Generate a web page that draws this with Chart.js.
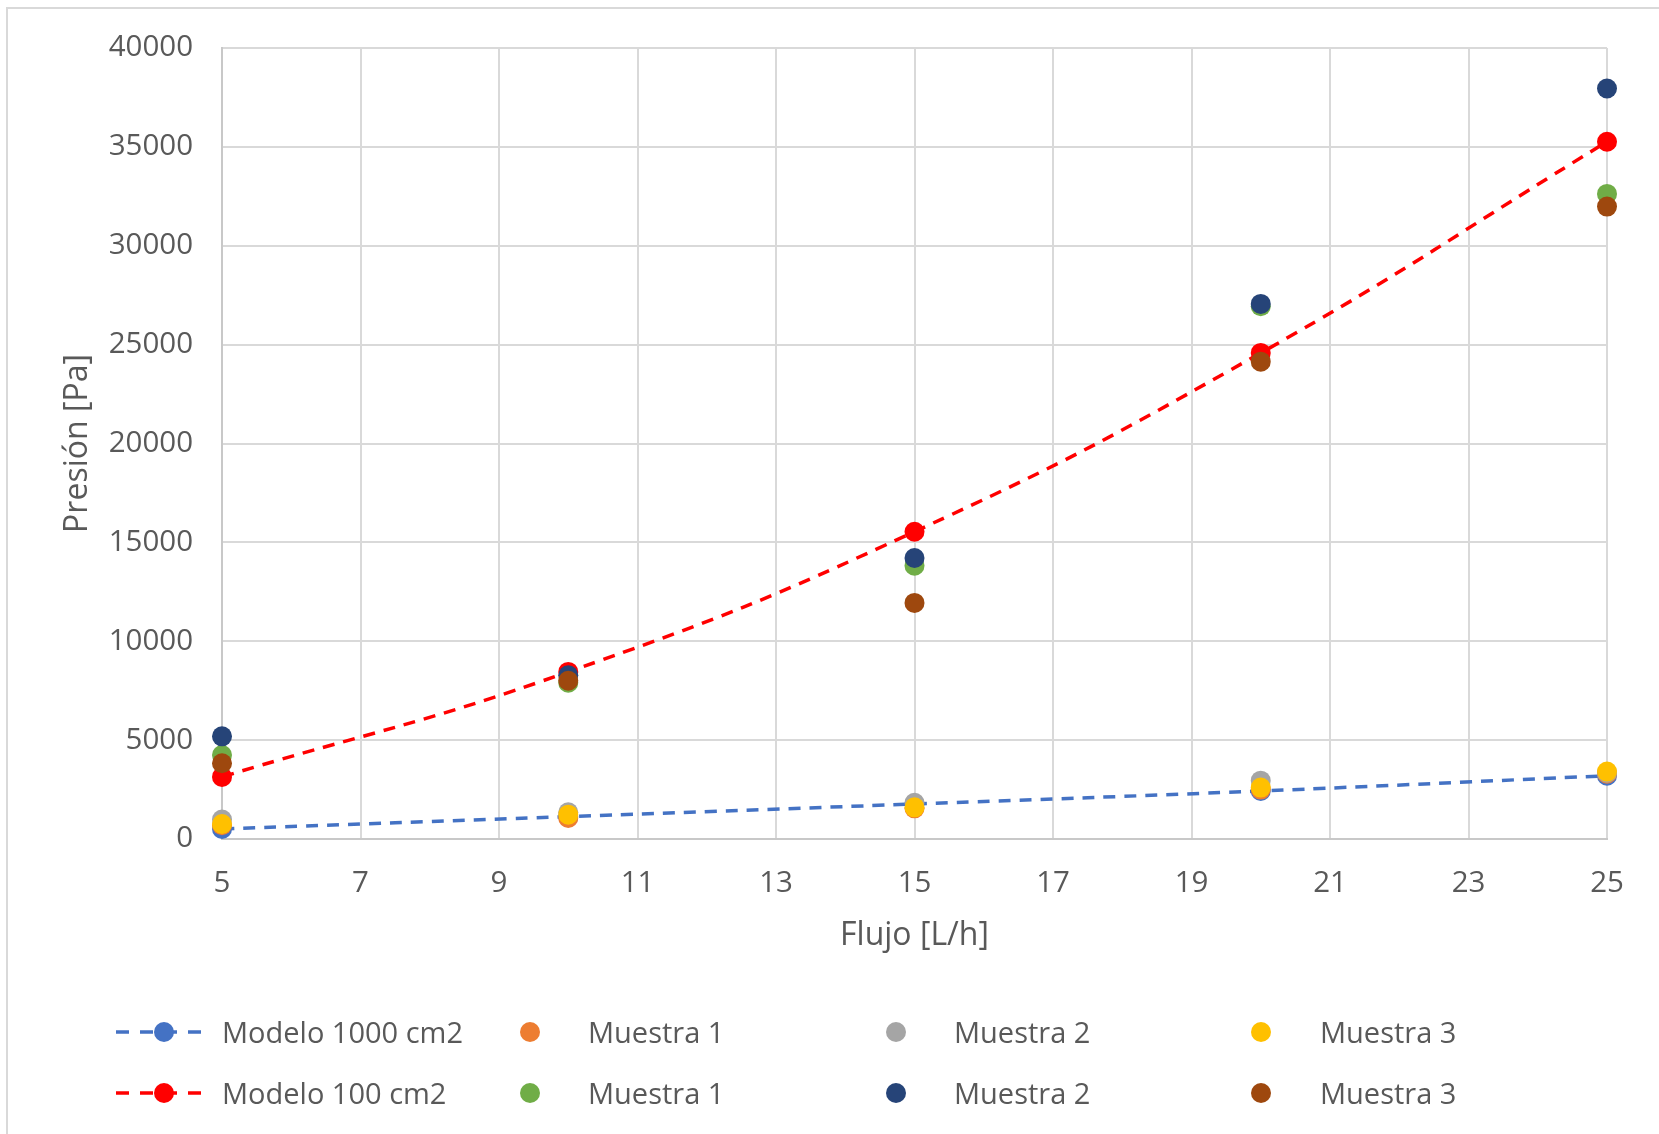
<!DOCTYPE html>
<html>
<head>
<meta charset="utf-8">
<script src="https://cdn.jsdelivr.net/npm/chart.js@4/dist/chart.umd.min.js"></script>
<style>
  html, body { margin: 0; padding: 0; background: #fff; overflow: hidden; }
  #frame { position: absolute; left: 6px; top: 7px; width: 1720px; height: 1220px; border: 2px solid #d9d9d9; box-sizing: border-box; }
  #wrap { position: absolute; left: 0; top: 0; width: 1659px; height: 1134px; }
  #legend { position: absolute; left: 0; top: 0; width: 1659px; height: 1134px; pointer-events: none;
            font-family: 'Open Sans', sans-serif; font-size: 29px; color: #595959; }
  #legend .txt { position: absolute; height: 40px; line-height: 40px; white-space: nowrap; }
  #legend svg { position: absolute; overflow: visible; }
</style>
</head>
<body>
<div id="frame"></div>
<div id="wrap"><canvas id="chart" width="1659" height="1134"></canvas></div>
<div id="legend"></div>
<script>
// Flow rates (L/h) and measured / modelled pressures (Pa)
const xFlow = [5, 10, 15, 20, 25];
const xTicks = [5, 7, 9, 11, 13, 15, 17, 19, 21, 23, 25];

const modelo1000 = [510, 1130, 1770, 2430, 3200];
const muestra1A  = [700, 1060, 1550, 2500, 3300];
const muestra2A  = [980, 1350, 1830, 2950, 3350];
const muestra3A  = [760, 1230, 1600, 2600, 3410];

const modelo100  = [3140, 8450, 15540, 24580, 35260];
const muestra1B  = [4250, 7900, 13820, 26940, 32620];
const muestra2B  = [5190, 8280, 14210, 27060, 37950];
const muestra3B  = [3830, 8000, 11940, 24140, 31980];

const seriesNames = ['Modelo 1000 cm2', 'Muestra 1', 'Muestra 2', 'Muestra 3',
                     'Modelo 100 cm2', 'Muestra 1', 'Muestra 2', 'Muestra 3'];
const seriesValues = [modelo1000, muestra1A, muestra2A, muestra3A,
                      modelo100, muestra1B, muestra2B, muestra3B];
const seriesColors = ['#4472C4', '#ED7D31', '#A5A5A5', '#FFC000',
                      '#FF0000', '#70AD47', '#264478', '#9E480E'];
const seriesIsModel = [true, false, false, false, true, false, false, false];

const toPoints = vals => vals.map((v, i) => ({ x: xFlow[i], y: v }));

const datasets = seriesValues.map((vals, i) => ({
  label: seriesNames[i],
  data: toPoints(vals),
  showLine: seriesIsModel[i],
  borderColor: seriesColors[i],
  backgroundColor: seriesColors[i],
  borderWidth: 3.5,
  borderDash: [12, 9],
  tension: 0.45,
  pointRadius: 10,
  pointHoverRadius: 10,
  pointBorderWidth: 0,
  pointBackgroundColor: seriesColors[i],
  clip: false,
  // later series are painted on top
  order: seriesValues.length - i
}));

const font = 'Open Sans';
const textColor = '#595959';
const gridColor = '#d9d9d9';

new Chart(document.getElementById('chart'), {
  type: 'scatter',
  data: { datasets },
  options: {
    responsive: false,
    animation: false,
    events: [],
    layout: { padding: { left: 59, top: 48, right: 52, bottom: 179 } },
    plugins: { legend: { display: false }, tooltip: { enabled: false } },
    scales: {
      x: {
        type: 'linear',
        min: 5, max: 25,
        afterBuildTicks: s => { s.ticks = xTicks.map(v => ({ value: v })); },
        afterFit: s => { s.height = 116; },
        grid: { color: gridColor, lineWidth: 2, drawTicks: false },
        border: { color: '#c8c8c8', width: 2 },
        ticks: { color: textColor, font: { family: font, size: 29.5 }, padding: 27, maxRotation: 0,
                 callback: v => String(v) },
        title: { display: true, text: 'Flujo [L/h]', color: textColor,
                 font: { family: font, size: 32 }, padding: 0 }
      },
      y: {
        type: 'linear',
        min: 0, max: 40000,
        ticks: { stepSize: 5000, color: textColor, font: { family: font, size: 29.5 }, padding: 29,
                 callback: v => String(v) },
        afterFit: s => { s.width = 163; },
        grid: { color: gridColor, lineWidth: 2, drawTicks: false },
        border: { color: '#c8c8c8', width: 2 },
        title: { display: true, text: 'Presión [Pa]', color: textColor,
                 font: { family: font, size: 32 }, padding: 0 }
      }
    }
  }
});

// Legend: two rows of four entries
const legend = document.getElementById('legend');
const colMarker = [164, 530, 896, 1261];
const colText = [222, 588, 954, 1320];
const rowY = [1032, 1093];
const svgNS = 'http://www.w3.org/2000/svg';
seriesNames.forEach((name, i) => {
  const r = Math.floor(i / 4), c = i % 4;
  const cy = rowY[r], cx = colMarker[c];
  const svg = document.createElementNS(svgNS, 'svg');
  svg.setAttribute('width', 120); svg.setAttribute('height', 30);
  svg.style.left = (cx - 60) + 'px'; svg.style.top = (cy - 15) + 'px';
  if (seriesIsModel[i]) {
    const ln = document.createElementNS(svgNS, 'line');
    ln.setAttribute('x1', 12); ln.setAttribute('x2', 108);
    ln.setAttribute('y1', 15); ln.setAttribute('y2', 15);
    ln.setAttribute('stroke', seriesColors[i]); ln.setAttribute('stroke-width', 3.5);
    ln.setAttribute('stroke-dasharray', '13 11');
    svg.appendChild(ln);
  }
  const dot = document.createElementNS(svgNS, 'circle');
  dot.setAttribute('cx', 60); dot.setAttribute('cy', 15); dot.setAttribute('r', 10);
  dot.setAttribute('fill', seriesColors[i]);
  svg.appendChild(dot);
  legend.appendChild(svg);
  const t = document.createElement('div');
  t.className = 'txt';
  t.textContent = name;
  t.style.left = colText[c] + 'px';
  t.style.top = (cy - 20) + 'px';
  legend.appendChild(t);
});
</script>
</body>
</html>
